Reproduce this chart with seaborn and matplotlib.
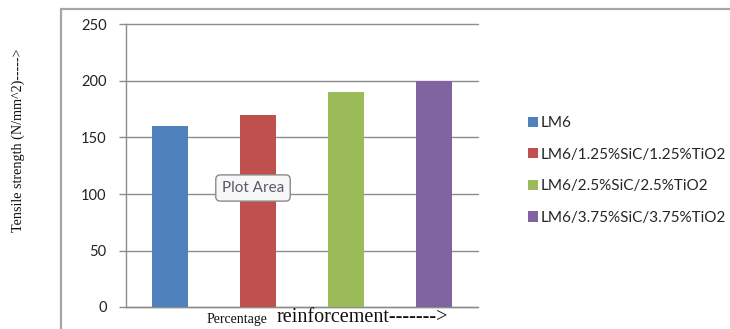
import matplotlib
matplotlib.use("Agg")
import matplotlib.pyplot as plt
import seaborn as sns
import pandas as pd
from matplotlib.lines import Line2D
from matplotlib.patches import Patch

# Tensile strength of LM6 and its SiC/TiO2 reinforced composites
materials = ["LM6", "LM6/1.25%SiC/1.25%TiO2", "LM6/2.5%SiC/2.5%TiO2", "LM6/3.75%SiC/3.75%TiO2"]
strength = [160, 170, 190, 200]
colors = ["#4F81BD", "#C0504D", "#9BBB59", "#8064A2"]
yticks = [0, 50, 100, 150, 200, 250]

df = pd.DataFrame({"material": materials, "strength": strength})

sns.set_theme(style="white")
plt.rcParams["font.family"] = ["Lato", "DejaVu Sans"]

W, H = 730, 329
fig = plt.figure(figsize=(W / 100, H / 100), dpi=100)
ax = fig.add_axes([126 / W, 1 - 307 / H, (478 - 126) / W, (307 - 24.5) / H])

sns.barplot(data=df, x="material", y="strength", hue="material",
            palette=colors, order=materials, hue_order=materials, saturation=1,
            width=0.4, dodge=False, legend=False, ax=ax, zorder=3, linewidth=0)

ax.set_ylim(0, 250)
ax.set_xlim(-0.5, 3.5)
ax.set_yticks(yticks)
ax.set_yticklabels([str(t) for t in yticks], fontsize=10.5, color="#222222")
ax.set_xticks([])
ax.set_xlabel("")
ax.set_ylabel("")
ax.yaxis.grid(True, color="#8c8c8c", linewidth=1.0, zorder=0)
for gl in ax.get_ygridlines():
    gl.set_clip_on(False)
ax.set_axisbelow(True)
ax.tick_params(axis="y", left=True, length=5, width=1, color="#8c8c8c", pad=9)
for side in ["top", "right"]:
    ax.spines[side].set_visible(False)
for side in ["left", "bottom"]:
    ax.spines[side].set_color("#8c8c8c")
    ax.spines[side].set_linewidth(1.0)

# chart frame
fig.add_artist(Line2D([61 / W, 1.0], [1 - 9 / H, 1 - 9 / H], transform=fig.transFigure,
                      color="#a6a6a6", linewidth=1.6))
fig.add_artist(Line2D([61 / W, 61 / W], [1 - 9 / H, 0.0], transform=fig.transFigure,
                      color="#a6a6a6", linewidth=1.6))

# axis titles
serif = ["Liberation Serif", "DejaVu Serif"]
fig.text(18 / W, 1 - 140 / H, "Tensile strength (N/mm^2)----->", rotation=90,
         ha="center", va="center", fontsize=10.2, family=serif, color="#111111")
fig.text(207 / W, 1 - 319 / H, "Percentage", ha="left", va="center", fontsize=10,
         family=serif, color="#111111")
fig.text(277 / W, 1 - 317 / H, "reinforcement------->", ha="left", va="center", fontsize=14.5,
         family=serif, color="#111111")

# legend
handles = [Patch(facecolor=c, edgecolor="none") for c in colors]
fig.legend(handles, materials, loc="upper left", bbox_to_anchor=(522 / W, 1 - 110 / H),
           frameon=False, fontsize=11, handlelength=0.65, handleheight=0.65,
           handletextpad=0.2, labelspacing=1.15, borderaxespad=0)

# hover tip
fig.text(253 / W, 1 - 188 / H, "Plot Area", ha="center", va="center", fontsize=11,
         color="#5a5a6a",
         bbox=dict(boxstyle="round,pad=0.4,rounding_size=0.3", facecolor="#f7f7f7",
                   edgecolor="#8a8a8a", linewidth=1.0))

fig.savefig("out.png", dpi=100)
